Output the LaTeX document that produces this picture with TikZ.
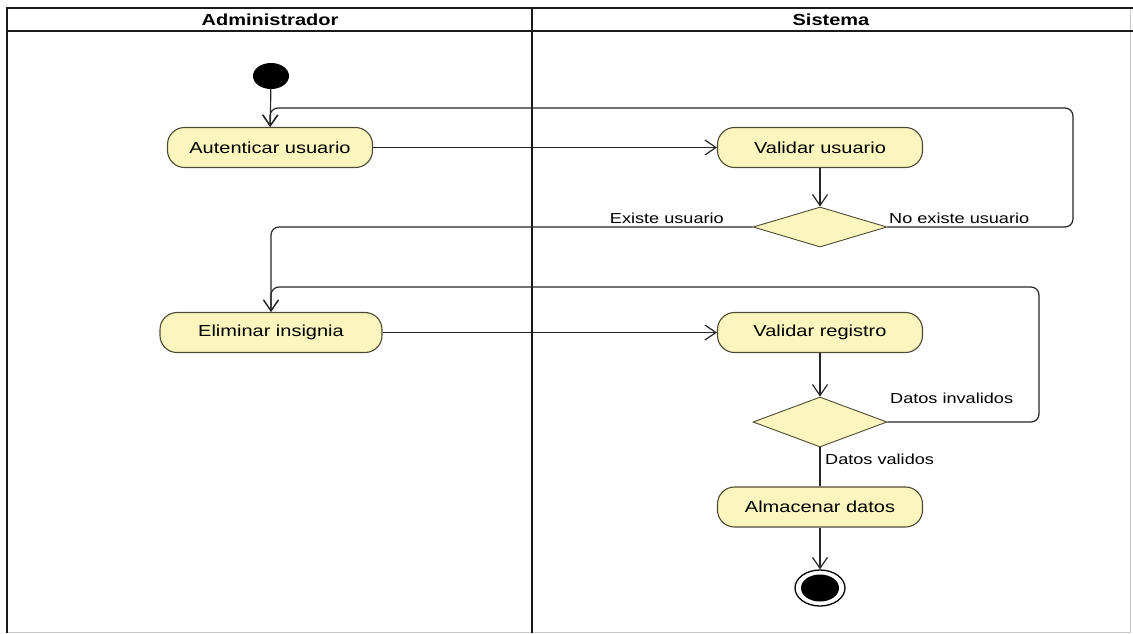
\documentclass[tikz,border=0pt]{standalone}
\usepackage{fontspec}
\setmainfont{Liberation Sans}[FakeStretch=1.25]
\usetikzlibrary{shapes.geometric,arrows.meta}
\definecolor{actfill}{HTML}{FAF6BE}
\definecolor{actdraw}{HTML}{4D4A33}
\definecolor{frameline}{HTML}{1A1A1A}
\definecolor{faintline}{HTML}{C8C8C8}
\tikzset{
  lanehead/.style={font=\fontsize{16}{18}\selectfont\bfseries, inner sep=0pt},
  activity/.style={draw=actdraw, fill=actfill, line width=1.1pt, rounded corners=17pt,
    minimum height=40pt, inner sep=0pt, font=\fontsize{16}{18}\selectfont},
  decision/.style={diamond, draw=actdraw, fill=actfill, line width=0.9pt,
    minimum width=134pt, inner sep=0pt},
  guard/.style={font=\fontsize{14.5}{16}\selectfont, inner sep=0pt},
  flow/.style={draw=black!85, line width=1.2pt, rounded corners=8pt,
    -{Straight Barb[length=11pt,width=15pt,line width=1.2pt]}},
  plain/.style={draw=black!85, line width=1.2pt},
  startdot/.style={ellipse, fill=black, minimum width=36pt, minimum height=26pt, inner sep=0pt},
}
\begin{document}
\begin{tikzpicture}[x=1pt,y=-1pt]
\useasboundingbox (0,0) rectangle (1133,633);
% frame
\draw[faintline, line width=1pt] (1130,8) -- (1130,632) -- (7,632);
\draw[frameline, line width=1.4pt] (7,633) -- (7,8) -- (1133,8);
\draw[frameline, line width=1.4pt] (7,31) -- (1133,31);
\draw[frameline, line width=1.4pt] (532,8) -- (532,633);
\node[lanehead] (hA) at (270,20) {Administrador};
\node[lanehead] (hS) at (831,20) {Sistema};
% nodes
\node[startdot] (start) at (271,76) {};
\node[activity, minimum width=205pt] (auth) at (270,147.5) {Autenticar usuario};
\node[activity, minimum width=205pt] (valu) at (820,147.5) {Validar usuario};
\node[decision, minimum height=40pt] (d1) at (820,227) {};
\node[activity, minimum width=222pt] (elim) at (271,332.5) {Eliminar insignia};
\node[activity, minimum width=205pt] (valr) at (820,332.5) {Validar registro};
\node[decision, minimum height=50pt] (d2) at (820,422) {};
\node[activity, minimum width=205pt] (alm) at (820,507) {Almacenar datos};
\node[ellipse, draw=black, line width=1.3pt, minimum width=50pt, minimum height=36pt, inner sep=0pt] (endo) at (820,588) {};
\node[ellipse, fill=black, minimum width=38pt, minimum height=27pt, inner sep=0pt] (endi) at (820,588) {};
% helper coordinates for the loops
\coordinate (r1) at (1073,108);
\coordinate (r2) at (1039,287);
% connectors
\draw[flow] (start) -- (auth);
\draw[flow] (auth) -- (valu);
\draw[flow] (valu) -- (d1);
\draw[flow] (d1.east) -| (r1) -| (auth.north);
\draw[flow] (d1.west) -| (elim.north);
\draw[flow] (elim) -- (valr);
\draw[flow] (valr) -- (d2);
\draw[flow] (d2.east) -| (r2) -| (elim.north);
\draw[plain] (d2.south) -- (alm.north);
\draw[flow] (alm) -- (endo);
% guards
\node[guard, anchor=east] (g1) at (724,218) {Existe usuario};
\node[guard, anchor=west] (g2) at (889,218) {No existe usuario};
\node[guard, anchor=west] (g3) at (890,398) {Datos invalidos};
\node[guard, anchor=west] (g4) at (825,459) {Datos validos};
\end{tikzpicture}
\end{document}
